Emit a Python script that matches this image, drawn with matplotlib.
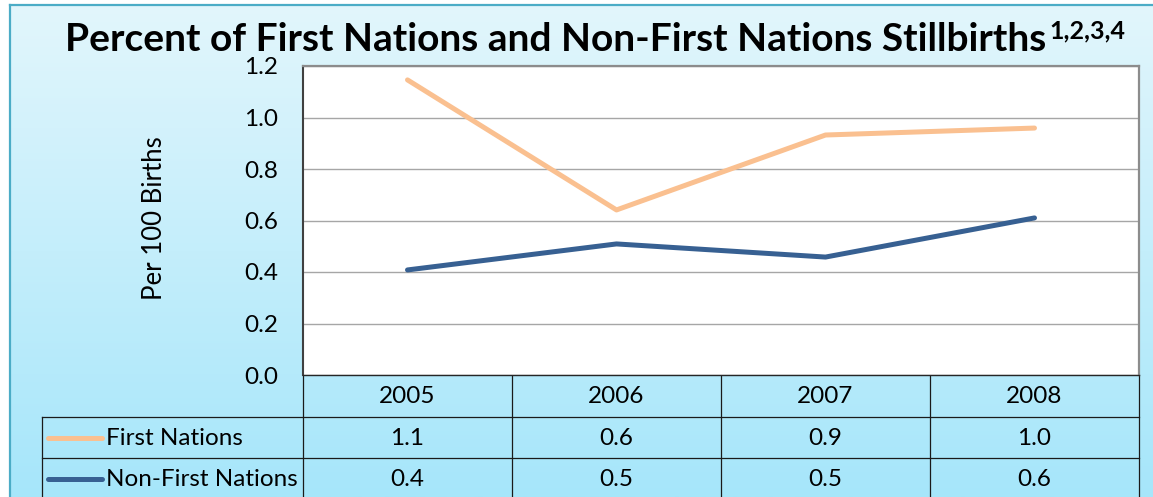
import matplotlib.pyplot as plt
import numpy as np
from matplotlib.colors import LinearSegmentedColormap

# chart data
years = ["2005", "2006", "2007", "2008"]
first_nations = [1.146, 0.641, 0.932, 0.959]
non_first_nations = [0.408, 0.509, 0.458, 0.610]
series_names = ["First Nations", "Non-First Nations"]
series_colors = ["#fac090", "#376092"]
y_ticks = [0.0, 0.2, 0.4, 0.6, 0.8, 1.0, 1.2]
title = "Percent of First Nations and Non-First Nations Stillbirths"
title_notes = "1,2,3,4"
y_label = "Per 100 Births"

W, H, DPI = 1153, 497, 100
FS = 17.5


def fx(px):
    return px / W


def fy(py):
    return 1 - py / H


plt.rcParams["font.family"] = ["Lato", "DejaVu Sans"]

fig = plt.figure(figsize=(W / DPI, H / DPI), dpi=DPI, facecolor="white")

# light blue gradient panel behind everything
bg = fig.add_axes([fx(10), 0, 1 - fx(10), fy(5)], zorder=0)
grad = np.linspace(0, 1, 256).reshape(-1, 1)
bg_cmap = LinearSegmentedColormap.from_list("", ["#e2f6fc", "#a6e6fa"])
bg.imshow(grad, aspect="auto", cmap=bg_cmap, extent=[0, 1, 0, 1], origin="upper")
bg.set_xticks([])
bg.set_yticks([])
for side in ["right", "bottom"]:
    bg.spines[side].set_visible(False)
for side in ["left", "top"]:
    bg.spines[side].set_color("#4bacc6")
    bg.spines[side].set_linewidth(1.6)

# plot area
ax = fig.add_axes([fx(303), fy(375), fx(1139 - 303), (375 - 66) / H], zorder=2)
ax.set_facecolor("white")
x = np.arange(len(years))
series = [first_nations, non_first_nations]
for vals, color in zip(series, series_colors):
    ax.plot(x, vals, color=color, lw=3.6, solid_capstyle="round", zorder=3)
ax.set_xlim(-0.5, len(years) - 0.5)
ax.set_ylim(0, 1.2)
ax.set_yticks(y_ticks)
ax.set_yticklabels([f"{t:.1f}" for t in y_ticks], fontsize=FS)
ax.tick_params(axis="y", length=0, pad=18)
ax.set_xticks([])
ax.yaxis.grid(True, color="#a6a6a6", lw=1)
ax.set_axisbelow(True)
ax.spines["left"].set_color("#404040")
ax.spines["left"].set_linewidth(1.5)
ax.spines["bottom"].set_color("#262626")
ax.spines["bottom"].set_linewidth(1.0)
for side in ["top", "right"]:
    ax.spines[side].set_color("#8c8c8c")
    ax.spines[side].set_linewidth(1.6)

fig.text(fx(155), fy(218), y_label, rotation=90, ha="center", va="center", fontsize=18.5)

# data table below the plot
label_w = 261 / 209
tab = fig.add_axes([fx(42), fy(500), fx(1139 - 42), (500 - 375) / H], zorder=1)
tab.set_xlim(-0.5 - label_w, len(years) - 0.5)
tab.set_ylim(3, 0)
tab.axis("off")
left = -0.5 - label_w
lc = "#1a1a1a"
for i in range(len(years) + 1):
    tab.plot([i - 0.5, i - 0.5], [0, 3], color=lc, lw=0.9, clip_on=False)
tab.plot([left, left], [1, 3], color=lc, lw=0.9, clip_on=False)
for r in [1, 2]:
    tab.plot([left, len(years) - 0.5], [r, r], color=lc, lw=0.9, clip_on=False)

for i, yr in enumerate(years):
    tab.text(i, 0.52, yr, ha="center", va="center", fontsize=FS)
for r, (name, vals, color) in enumerate(zip(series_names, series, series_colors), start=1):
    for i, v in enumerate(vals):
        tab.text(i, r + 0.52, f"{v:.1f}", ha="center", va="center", fontsize=FS)
    tab.plot([left + 6 / 209, left + 60 / 209], [r + 0.5, r + 0.5], color=color,
             lw=3.6, solid_capstyle="round", clip_on=False)
    tab.text(left + 64 / 209, r + 0.52, name, ha="left", va="center", fontsize=FS)

# title with superscript note markers (kept just clear of the top tick label)
t = fig.text(fx(65), fy(51), title, fontsize=28, weight="bold", va="baseline", zorder=5)
fig.canvas.draw()
bb = t.get_window_extent()
fig.text(bb.x1 / W + fx(3), fy(38), title_notes, fontsize=18, weight="bold",
         va="baseline", zorder=5)

fig.savefig("out.png", dpi=DPI, facecolor="white")
